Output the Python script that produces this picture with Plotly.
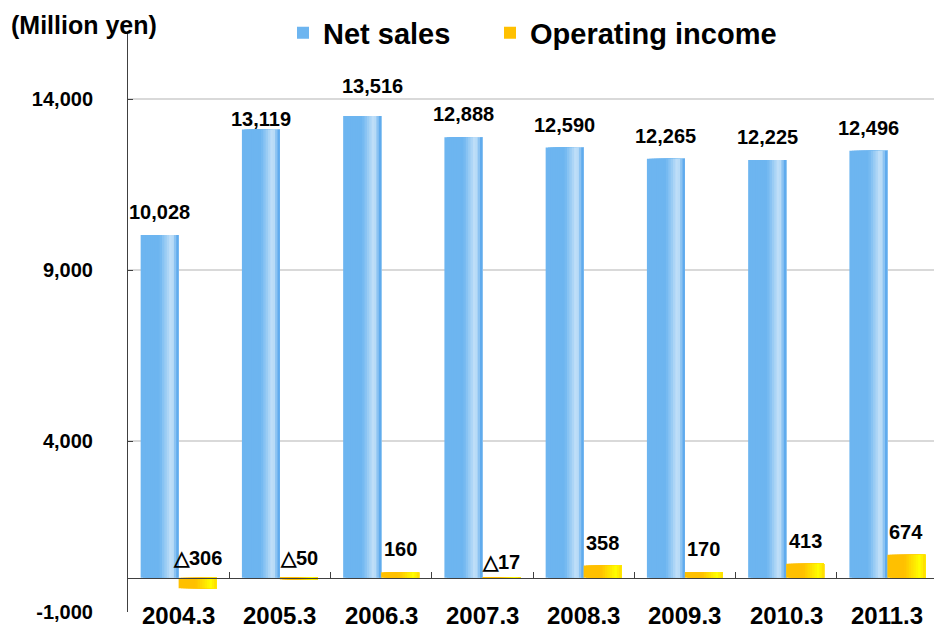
import plotly.graph_objects as go

# ---------------- data ----------------
categories = ["2004.3", "2005.3", "2006.3", "2007.3", "2008.3", "2009.3", "2010.3", "2011.3"]
net_sales = [10028, 13119, 13516, 12888, 12590, 12265, 12225, 12496]
operating_income = [-306, -50, 160, -17, 358, 170, 413, 674]
y_tick_values = [-1000, 4000, 9000, 14000]
y_tick_labels = ["-1,000", "4,000", "9,000", "14,000"]
Y_MIN, Y_MAX = -1000, 16000

# ---------------- style ----------------
FONT = "Arial, 'Liberation Sans', sans-serif"
AXIS_COLOR = "#404040"
GRID_COLOR = "#D9D9D9"
BAR_W = 0.375
N_STRIPES = 16
BLUE_STOPS = [(0.0, "#6DB5F0"), (0.5, "#6DB5F0"), (0.82, "#C9E4F9"), (1.0, "#4A9FEA")]
YELLOW_STOPS = [(0.0, "#FFC000"), (0.45, "#FFC000"), (0.85, "#FFFF00"), (1.0, "#FFD800")]
# small label nudges (pixels) to follow the hand-placed labels of the original
NS_LABEL_SHIFT = {1: (0, 10), 2: (10, 30)}
OI_LABEL_SHIFT = {3: (0, 16)}

# page offset of the plot div (default body margin) is compensated in the margins
W, H, OFF = 942, 635, 8
M_L, M_R, M_T, M_B = 128 - OFF, W + OFF - 938, 31 - OFF, H + OFF - 612
PLOT_W, PLOT_H = W - M_L - M_R, H - M_T - M_B


def _rgb(h):
    h = h.lstrip("#")
    return tuple(int(h[i:i + 2], 16) for i in (0, 2, 4))


def grad(stops, f):
    for (f0, c0), (f1, c1) in zip(stops[:-1], stops[1:]):
        if f0 <= f <= f1:
            t = 0 if f1 == f0 else (f - f0) / (f1 - f0)
            a, b = _rgb(c0), _rgb(c1)
            return "rgb(%d,%d,%d)" % tuple(round(a[i] + (b[i] - a[i]) * t) for i in range(3))
    return stops[-1][1]


idx = list(range(len(categories)))
fig = go.Figure()

series = [
    ("Net sales", net_sales, -BAR_W, BLUE_STOPS, "legend"),
    ("Operating income", operating_income, 0.0, YELLOW_STOPS, "legend2"),
]
for name, vals, start, stops, leg in series:
    for k in range(N_STRIPES):
        s = start + k * BAR_W / N_STRIPES
        fig.add_bar(
            x=idx, y=vals, offset=s, width=start + BAR_W - s,
            marker=dict(color=grad(stops, (k + 0.5) / N_STRIPES), line=dict(width=0)),
            name=name, legendgroup=name, showlegend=(k == 0), legend=leg,
            hoverinfo="skip" if k else "y",
        )

# data labels
for i, v in zip(idx, net_sales):
    dx, dy = NS_LABEL_SHIFT.get(i, (0, 23))
    fig.add_annotation(x=i - BAR_W / 2, y=v, text=f"{v:,}", showarrow=False,
                       yanchor="middle", xanchor="center", xshift=dx, yshift=dy,
                       font=dict(family=FONT, size=20, color="#000", weight="bold"))
for i, v in zip(idx, operating_income):
    txt = ("△" + f"{-v:,}") if v < 0 else f"{v:,}"
    dx, dy = OI_LABEL_SHIFT.get(i, (0, 23 if v > 0 else 20))
    fig.add_annotation(x=i + BAR_W / 2, y=max(v, 0), text=txt, showarrow=False,
                       yanchor="middle", xanchor="center", xshift=dx, yshift=dy,
                       font=dict(family=FONT, size=20, color="#000", weight="bold"))

# category labels along the bottom
for i, c in zip(idx, categories):
    fig.add_annotation(x=i, y=Y_MIN, text=c, showarrow=False, yanchor="middle",
                       yshift=-3, font=dict(family=FONT, size=24, color="#000", weight="bold"))

# unit label top-left
fig.add_annotation(xref="paper", yref="paper", x=(9 - 128) / PLOT_W, xanchor="left",
                   y=1 + (31 - 25) / PLOT_H, yanchor="middle", showarrow=False,
                   text="(Million yen)",
                   font=dict(family=FONT, size=25, color="#000", weight="bold"))

legend_common = dict(orientation="h", xref="container", yref="container",
                     xanchor="left", y=1 - (33 - OFF) / H, yanchor="middle",
                     font=dict(family=FONT, size=29, color="#000", weight="bold"),
                     bgcolor="rgba(0,0,0,0)")

fig.update_layout(
    width=W, height=H,
    margin=dict(l=M_L, r=M_R, t=M_T, b=M_B, autoexpand=False),
    paper_bgcolor="white", plot_bgcolor="white",
    barmode="overlay",
    showlegend=True,
    legend=dict(x=(283 - OFF) / W, **legend_common),
    legend2=dict(x=(490 - OFF) / W, **legend_common),
    xaxis=dict(range=[-0.5, len(categories) - 0.5],
               tickvals=[i + 0.5 for i in idx], ticks="inside", ticklen=6,
               tickcolor=AXIS_COLOR, showticklabels=False,
               showline=True, linecolor=AXIS_COLOR, linewidth=1,
               anchor="free", position=-Y_MIN / (Y_MAX - Y_MIN),
               showgrid=False, zeroline=False, fixedrange=True),
    yaxis=dict(range=[Y_MIN, Y_MAX], tickvals=y_tick_values, ticktext=y_tick_labels,
               ticks="inside", ticklen=5, tickcolor=AXIS_COLOR,
               showline=True, linecolor=AXIS_COLOR, linewidth=1,
               showgrid=True, gridcolor=GRID_COLOR, gridwidth=1.5, zeroline=False,
               ticklabelstandoff=30,
               tickfont=dict(family=FONT, size=20, color="#000", weight="bold"),
               fixedrange=True),
)

fig.write_html("out.html")
